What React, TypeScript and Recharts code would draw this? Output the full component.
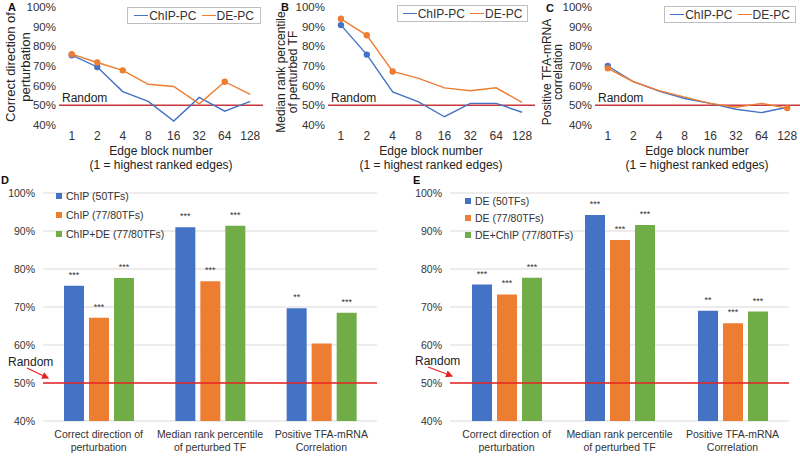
import React from "react";
import {
  LineChart,
  Line,
  BarChart,
  Bar,
  XAxis,
  YAxis,
  CartesianGrid,
  ReferenceLine,
  LabelList,
} from "recharts";

const FONT = "'Liberation Sans', Arial, Helvetica, sans-serif";
const BLUE = "#4472C4";
const ORANGE = "#ED7D31";
const GREEN = "#70AD47";
const TOP_RED = "#C8373C";
const BOTTOM_RED = "#E42320";

// ---- top panels (A, B, C) ----
const edgeBlocks = ["1", "2", "4", "8", "16", "32", "64", "128"];
const lineSeriesNames = ["ChIP-PC", "DE-PC"];
const pctTicks = [40, 50, 60, 70, 80, 90, 100];

const aChip = [75.5, 69.5, 57, 52, 42, 54, 47, 52];
const aDe = [76, 71.8, 67.8, 60.7, 59.6, 50.8, 62, 55.6];
const aChipMarks = [0, 1];
const aDeMarks = [0, 1, 2, 6];

const bChip = [90.8, 75.8, 56.8, 51.8, 44.2, 51, 51, 46.5];
const bDe = [94, 85.6, 67.2, 63.7, 58.9, 57.4, 58.9, 51.5];
const bChipMarks = [0, 1];
const bDeMarks = [0, 1, 2];

const cChip = [70, 62, 57.2, 53.5, 51, 48, 46.3, 49];
const cDe = [68.8, 62, 57.5, 54.2, 51, 49, 51, 48.6];
const cChipMarks = [0];
const cDeMarks = [0, 7];

// ---- bottom panels (D, E) ----
const measures = [
  "Correct direction of\nperturbation",
  "Median rank percentile\nof perturbed TF",
  "Positive TFA-mRNA\nCorrelation",
];

const dNames = ["ChIP (50TFs)", "ChIP (77/80TFs)", "ChIP+DE (77/80TFs)"];
const dFirst = [75.6, 91, 69.7];
const dSecond = [67.2, 76.8, 60.4];
const dThird = [77.6, 91.4, 68.5];
const dFirstStars = ["***", "***", "**"];
const dSecondStars = ["***", "***", ""];
const dThirdStars = ["***", "***", "***"];

const eNames = ["DE (50TFs)", "DE (77/80TFs)", "DE+ChIP (77/80TFs)"];
const eFirst = [75.9, 94.2, 69];
const eSecond = [73.3, 87.6, 65.7];
const eThird = [77.7, 91.6, 68.8];
const eFirstStars = ["***", "***", "**"];
const eSecondStars = ["***", "***", "***"];
const eThirdStars = ["***", "***", "***"];

const pct = (v: number) => `${v}%`;

const markDot = (marks: number[], color: string) => (props: any) => {
  const { cx, cy, index } = props;
  if (!marks.includes(index)) return <g key={`dot-${index}`} />;
  return <circle key={`dot-${index}`} cx={cx} cy={cy} r={3.2} fill={color} stroke="none" />;
};

type TopProps = {
  left: number;
  width: number;
  yAxisWidth: number;
  chip: number[];
  de: number[];
  chipMarks: number[];
  deMarks: number[];
};

const TopPanel = ({ left, width, yAxisWidth, chip, de, chipMarks, deMarks }: TopProps) => {
  const data = edgeBlocks.map((b, i) => ({ block: b, chip: chip[i], de: de[i] }));
  const plotW = width - yAxisWidth;
  const pad = plotW / 16;
  return (
    <div style={{ position: "absolute", left, top: 0 }}>
      <LineChart
        width={width}
        height={175}
        data={data}
        margin={{ top: 7, right: 0, left: 0, bottom: 0 }}
      >
        <XAxis
          dataKey="block"
          axisLine={false}
          tickLine={false}
          tickSize={0}
          tickMargin={6}
          height={50}
          padding={{ left: pad, right: pad }}
          interval={0}
          tick={{ fontSize: 12, fill: "#333", fontFamily: FONT }}
        />
        <YAxis
          domain={[40, 100]}
          ticks={pctTicks}
          width={yAxisWidth}
          axisLine={false}
          tickLine={false}
          tickSize={0}
          tickMargin={3}
          tickFormatter={pct}
          tick={{ fontSize: 11.5, fill: "#333", fontFamily: FONT }}
        />
        <ReferenceLine
          y={50}
          stroke={TOP_RED}
          strokeWidth={1.5}
          label={{
            value: "Random",
            position: "insideBottomLeft",
            offset: 3,
            fill: "#222",
            fontSize: 12,
            fontFamily: FONT,
          }}
        />
        <Line
          dataKey="chip"
          stroke={BLUE}
          strokeWidth={1.4}
          dot={markDot(chipMarks, BLUE)}
          activeDot={false}
          isAnimationActive={false}
        />
        <Line
          dataKey="de"
          stroke={ORANGE}
          strokeWidth={1.4}
          dot={markDot(deMarks, ORANGE)}
          activeDot={false}
          isAnimationActive={false}
        />
      </LineChart>
    </div>
  );
};

const LineLegend = ({ left, top, width }: { left: number; top: number; width: number }) => (
  <div
    style={{
      position: "absolute",
      left,
      top,
      width,
      height: 17,
      boxSizing: "border-box",
      border: "1px solid #BFBFBF",
      background: "#fff",
      display: "flex",
      alignItems: "center",
      justifyContent: "center",
      fontFamily: FONT,
      fontSize: 12,
      color: "#333",
      whiteSpace: "nowrap",
    }}
  >
    {lineSeriesNames.map((n, i) => (
      <span key={n} style={{ display: "flex", alignItems: "center", marginLeft: i ? 5 : 0 }}>
        <span
          style={{
            display: "inline-block",
            width: 14,
            height: 1.5,
            background: i ? ORANGE : BLUE,
            marginRight: 1,
          }}
        />
        {n}
      </span>
    ))}
  </div>
);

const GroupTick = (props: any) => {
  const { x, y, payload } = props;
  const lines = String(payload.value).split("\n");
  return (
    <text x={x} y={y} textAnchor="middle" fontSize={10.5} fill="#333" fontFamily={FONT}>
      {lines.map((l, i) => (
        <tspan key={i} x={x} dy={i === 0 ? 13 : 13.4}>
          {l}
        </tspan>
      ))}
    </text>
  );
};

type BottomProps = {
  left: number;
  yAxisWidth: number;
  marginRight: number;
  first: number[];
  second: number[];
  third: number[];
  firstStars: string[];
  secondStars: string[];
  thirdStars: string[];
};

const BottomPanel = (p: BottomProps) => {
  const data = measures.map((m, i) => ({
    measure: m,
    first: p.first[i],
    second: p.second[i],
    third: p.third[i],
    firstStar: p.firstStars[i],
    secondStar: p.secondStars[i],
    thirdStar: p.thirdStars[i],
  }));
  const starStyle = { fontSize: 9, fill: "#333", fontFamily: FONT };
  return (
    <div style={{ position: "absolute", left: p.left, top: 180 }}>
      <BarChart
        width={400}
        height={286}
        data={data}
        barSize={20}
        barGap={5}
        margin={{ top: 13, right: p.marginRight, left: 0, bottom: 0 }}
      >
        <CartesianGrid vertical={false} stroke="#D9D9D9" />
        <XAxis
          dataKey="measure"
          axisLine={false}
          tickLine={false}
          tickSize={0}
          tickMargin={4}
          height={45}
          interval={0}
          tick={<GroupTick />}
        />
        <YAxis
          domain={[40, 100]}
          ticks={pctTicks}
          width={p.yAxisWidth}
          axisLine={false}
          tickLine={false}
          tickFormatter={pct}
          tick={{ fontSize: 10.5, fill: "#333", fontFamily: FONT }}
        />
        <Bar dataKey="first" fill={BLUE} isAnimationActive={false}>
          <LabelList dataKey="firstStar" position="top" offset={8} style={starStyle} />
        </Bar>
        <Bar dataKey="second" fill={ORANGE} isAnimationActive={false}>
          <LabelList dataKey="secondStar" position="top" offset={8} style={starStyle} />
        </Bar>
        <Bar dataKey="third" fill={GREEN} isAnimationActive={false}>
          <LabelList dataKey="thirdStar" position="top" offset={8} style={starStyle} />
        </Bar>
        <ReferenceLine y={50} stroke={BOTTOM_RED} strokeWidth={1.5} />
      </BarChart>
    </div>
  );
};

const BarLegend = ({ left, top, rowH, names }: { left: number; top: number; rowH: number; names: string[] }) => (
  <div style={{ position: "absolute", left, top, fontFamily: FONT, fontSize: 10.5, color: "#333" }}>
    {names.map((n, i) => (
      <div key={n} style={{ height: rowH, display: "flex", alignItems: "center", whiteSpace: "nowrap" }}>
        <span
          style={{
            display: "inline-block",
            width: 6,
            height: 6,
            background: [BLUE, ORANGE, GREEN][i],
            marginRight: 4,
          }}
        />
        {n}
      </div>
    ))}
  </div>
);

const Annotations = () => (
  <svg
    width={800}
    height={466}
    style={{ position: "absolute", left: 0, top: 0, pointerEvents: "none" }}
    fontFamily={FONT}
  >
    {/* panel letters */}
    <g fontWeight="bold" fontSize={11} fill="#111">
      <text x={8} y={11}>A</text>
      <text x={281} y={11}>B</text>
      <text x={546} y={12}>C</text>
      <text x={1} y={184}>D</text>
      <text x={413} y={184}>E</text>
    </g>

    {/* y titles of top panels */}
    <g fill="#222" textAnchor="middle" dominantBaseline="central">
      <text transform="translate(10,67) rotate(-90)" fontSize={13}>Correct direction of</text>
      <text transform="translate(25,67) rotate(-90)" fontSize={13}>perturbation</text>
      <text transform="translate(281,72) rotate(-90)" fontSize={12}>Median rank percentile</text>
      <text transform="translate(293,72) rotate(-90)" fontSize={12}>of perturbed TF</text>
      <text transform="translate(547,72) rotate(-90)" fontSize={12}>Positive TFA-mRNA</text>
      <text transform="translate(558,72) rotate(-90)" fontSize={12}>correlation</text>
    </g>

    {/* x titles of top panels */}
    <g fill="#222" textAnchor="middle" fontSize={12} dominantBaseline="central">
      {[161, 431, 697].map((cx) => (
        <g key={cx}>
          <text x={cx} y={151}>Edge block number</text>
          <text x={cx} y={165}>(1 = highest ranked edges)</text>
        </g>
      ))}
    </g>

    {/* Random markers on bar panels */}
    <defs>
      <marker id="arrowRed" markerWidth="6" markerHeight="6" refX="5" refY="3" orient="auto">
        <path d="M0,0 L6,3 L0,6 Z" fill={BOTTOM_RED} />
      </marker>
    </defs>
    <text x={8} y={366} fontSize={12} fill="#222">Random</text>
    <line x1={27} y1={368} x2={48} y2={378} stroke={BOTTOM_RED} strokeWidth={1.2} markerEnd="url(#arrowRed)" />
    <text x={415} y={365} fontSize={12} fill="#222">Random</text>
    <line x1={428} y1={367} x2={452} y2={376} stroke={BOTTOM_RED} strokeWidth={1.2} markerEnd="url(#arrowRed)" />
  </svg>
);

export default function App() {
  return (
    <div
      style={{
        position: "absolute",
        left: 0,
        top: 0,
        width: 800,
        height: 466,
        background: "#fff",
        overflow: "hidden",
        fontFamily: FONT,
      }}
    >
      <TopPanel left={0} width={263} yAxisWidth={59} chip={aChip} de={aDe} chipMarks={aChipMarks} deMarks={aDeMarks} />
      <TopPanel left={270} width={265} yAxisWidth={58} chip={bChip} de={bDe} chipMarks={bChipMarks} deMarks={bDeMarks} />
      <TopPanel left={535} width={265} yAxisWidth={60} chip={cChip} de={cDe} chipMarks={cChipMarks} deMarks={cDeMarks} />
      <LineLegend left={127} top={7} width={134} />
      <LineLegend left={397} top={5} width={131} />
      <LineLegend left={664} top={6} width={132} />

      <BottomPanel
        left={0}
        yAxisWidth={43}
        marginRight={23}
        first={dFirst}
        second={dSecond}
        third={dThird}
        firstStars={dFirstStars}
        secondStars={dSecondStars}
        thirdStars={dThirdStars}
      />
      <BottomPanel
        left={400}
        yAxisWidth={50}
        marginRight={11}
        first={eFirst}
        second={eSecond}
        third={eThird}
        firstStars={eFirstStars}
        secondStars={eSecondStars}
        thirdStars={eThirdStars}
      />
      <BarLegend left={56} top={186} rowH={19} names={dNames} />
      <BarLegend left={465} top={192} rowH={17} names={eNames} />

      <Annotations />
    </div>
  );
}
